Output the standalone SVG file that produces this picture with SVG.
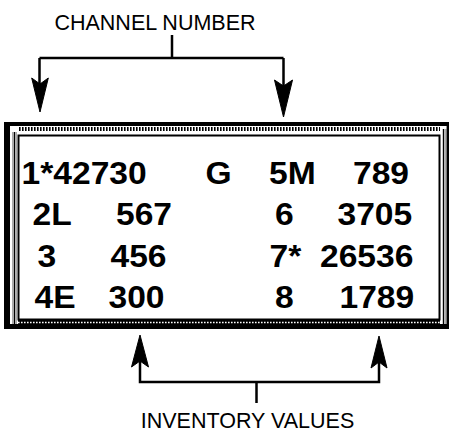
<svg xmlns="http://www.w3.org/2000/svg" width="451" height="432" viewBox="0 0 451 432">
<style>
.lbl{font-family:"Liberation Sans",Arial,sans-serif;font-size:21.5px;fill:#000}
.val{font-family:"Liberation Sans",Arial,sans-serif;font-size:32px;font-weight:bold;fill:#000}
.ln{fill:none;stroke:#000;stroke-width:2.5}
.ah{fill:#000;stroke:#000;stroke-width:1}
</style>
<rect width="451" height="432" fill="#fff"/>
<g id="display-panel">
  <rect x="4" y="122" width="445" height="207" fill="#000"/>
  <rect x="10" y="126" width="433" height="6" fill="#fff"/>
  <line x1="10" y1="129" x2="443" y2="129" stroke="#000" stroke-width="4" stroke-dasharray="1.6 1.4"/>
  <rect x="10" y="132" width="433" height="3" fill="#fff"/>
  <rect x="18" y="320.5" width="425" height="4" fill="#000"/>
  <line x1="18" y1="322.5" x2="443" y2="322.5" stroke="#fff" stroke-width="1.6" stroke-dasharray="1.6 1.4"/>
  <rect x="10" y="126" width="8" height="198" fill="#fff"/>
  <rect x="12" y="132" width="2" height="192" fill="#aaa"/>
  <rect x="14" y="132" width="1.2" height="192" fill="#000"/>
  <rect x="15.2" y="132" width="1.8" height="192" fill="#aaa"/>
  <rect x="440" y="126" width="9" height="198" fill="#fff"/>
  <rect x="442.8" y="129" width="1.4" height="195" fill="#000"/>
  <rect x="444.4" y="129" width="2.2" height="195" fill="#aaa"/>
  <rect x="446.6" y="122" width="2.4" height="207" fill="#000"/>
  <rect x="18.5" y="135.5" width="421" height="184" fill="#fff" stroke="#000" stroke-width="2"/>
  <g id="values">
    <text class="val" x="21.5" y="184" textLength="125.2" lengthAdjust="spacingAndGlyphs">1*42730</text>
    <text class="val" x="205.5" y="184" textLength="26.1" lengthAdjust="spacingAndGlyphs">G</text>
    <text class="val" x="269" y="184" textLength="46.7" lengthAdjust="spacingAndGlyphs">5M</text>
    <text class="val" x="353" y="184" textLength="56" lengthAdjust="spacingAndGlyphs">789</text>
    <text class="val" x="32.5" y="225" textLength="39.2" lengthAdjust="spacingAndGlyphs">2L</text>
    <text class="val" x="116" y="225" textLength="56" lengthAdjust="spacingAndGlyphs">567</text>
    <text class="val" x="275" y="225" textLength="18.7" lengthAdjust="spacingAndGlyphs">6</text>
    <text class="val" x="337.5" y="225" textLength="74.7" lengthAdjust="spacingAndGlyphs">3705</text>
    <text class="val" x="37.5" y="267" textLength="18.7" lengthAdjust="spacingAndGlyphs">3</text>
    <text class="val" x="110.5" y="267" textLength="56" lengthAdjust="spacingAndGlyphs">456</text>
    <text class="val" x="269.5" y="267" textLength="31.8" lengthAdjust="spacingAndGlyphs">7*</text>
    <text class="val" x="320" y="267" textLength="93.4" lengthAdjust="spacingAndGlyphs">26536</text>
    <text class="val" x="34.5" y="308" textLength="41.1" lengthAdjust="spacingAndGlyphs">4E</text>
    <text class="val" x="108.5" y="308" textLength="56" lengthAdjust="spacingAndGlyphs">300</text>
    <text class="val" x="275" y="308" textLength="18.7" lengthAdjust="spacingAndGlyphs">8</text>
    <text class="val" x="339.5" y="308" textLength="74.7" lengthAdjust="spacingAndGlyphs">1789</text>
  </g>
</g>
<g id="channel-number-label">
  <text class="lbl" x="155" y="30" text-anchor="middle">CHANNEL NUMBER</text>
</g>
<g id="inventory-values-label">
  <text class="lbl" x="247.5" y="428" text-anchor="middle">INVENTORY VALUES</text>
</g>
<g id="connectors">
  <path class="ln" d="M172,35 V58 M39.5,58 H283.5 M39.5,58 V85 M283.5,58 V88"/>
  <path class="ah" d="M40,112 L31.7,78 L40,84 L48.3,78 Z"/>
  <path class="ah" d="M283.5,117 L274.5,80 L283.5,86 L292.5,80 Z"/>
  <path class="ln" d="M140,360 V382 H379 V360 M256.5,382 V403"/>
  <path class="ah" d="M140,335 L131.5,367 L140,361 L148.5,367 Z"/>
  <path class="ah" d="M379,336 L371,368 L379,362 L387,368 Z"/>
</g>
</svg>
